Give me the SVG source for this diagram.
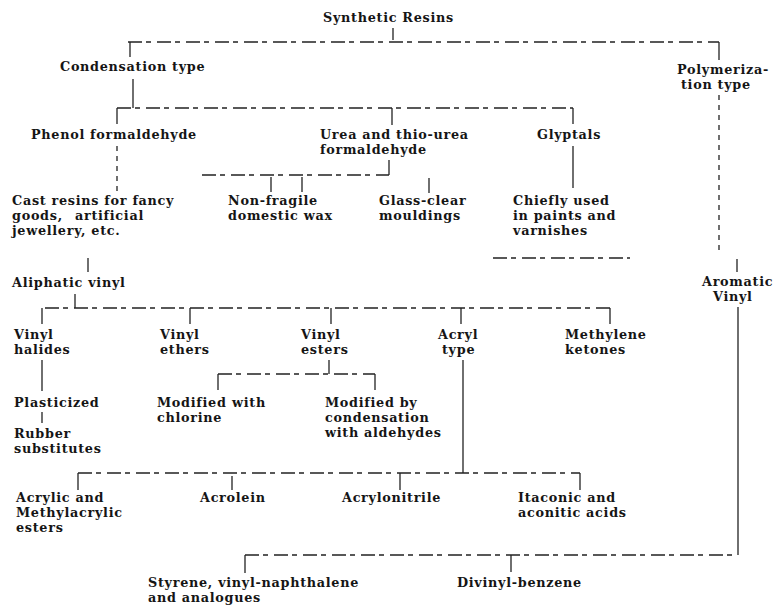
<svg xmlns="http://www.w3.org/2000/svg" width="778" height="605" viewBox="0 0 778 605">
<style>
text{font-family:"DejaVu Serif","Liberation Serif",serif;font-weight:bold;font-size:12.8px;letter-spacing:0.7px;fill:#151515}
.c line{stroke:#222;stroke-width:1.3;fill:none}
.c .h{stroke-dasharray:14 4 5 6}
.c .d{stroke-dasharray:5 5}
</style>
<rect width="778" height="605" fill="#fff"/>
<g class="c" id="connectors">
<line x1="393" y1="28" x2="393" y2="40"/>
<line class="h" x1="128" y1="42" x2="719" y2="42"/>
<line x1="130" y1="42" x2="130" y2="57"/>
<line x1="719" y1="42" x2="719" y2="60"/>
<line x1="133" y1="79" x2="133" y2="108"/>
<line class="h" x1="117" y1="108" x2="573" y2="108"/>
<line x1="117" y1="108" x2="117" y2="124"/>
<line x1="392" y1="108" x2="392" y2="125"/>
<line x1="573" y1="108" x2="573" y2="124"/>
<line class="d" x1="117" y1="146" x2="117" y2="195"/>
<line x1="389" y1="160" x2="389" y2="175"/>
<line class="h" x1="202" y1="175" x2="389" y2="175"/>
<line x1="271" y1="177" x2="271" y2="192"/>
<line x1="302" y1="177" x2="302" y2="192"/>
<line x1="429" y1="178" x2="429" y2="193"/>
<line x1="573" y1="146" x2="573" y2="188"/>
<line class="d" x1="719" y1="95" x2="719" y2="252"/>
<line class="h" x1="493" y1="258" x2="630" y2="258"/>
<line x1="88" y1="258" x2="88" y2="272"/>
<line x1="737" y1="259" x2="737" y2="272"/>
<line x1="75" y1="294" x2="75" y2="308"/>
<line class="h" x1="45" y1="308" x2="610" y2="308"/>
<line x1="42" y1="308" x2="42" y2="324"/>
<line x1="190" y1="308" x2="190" y2="324"/>
<line x1="331" y1="308" x2="331" y2="324"/>
<line x1="461" y1="308" x2="461" y2="324"/>
<line x1="610" y1="308" x2="610" y2="324"/>
<line x1="42" y1="360" x2="42" y2="391"/>
<line x1="329" y1="360" x2="329" y2="374"/>
<line class="h" x1="218" y1="374" x2="375" y2="374"/>
<line x1="218" y1="374" x2="218" y2="390"/>
<line x1="375" y1="374" x2="375" y2="390"/>
<line x1="42" y1="412" x2="42" y2="423"/>
<line x1="463" y1="360" x2="463" y2="473"/>
<line class="h" x1="78" y1="473" x2="580" y2="473"/>
<line x1="78" y1="473" x2="78" y2="490"/>
<line x1="232" y1="476" x2="232" y2="490"/>
<line x1="400" y1="473" x2="400" y2="490"/>
<line x1="580" y1="473" x2="580" y2="490"/>
<line x1="738" y1="307" x2="738" y2="555"/>
<line class="h" x1="245" y1="555" x2="738" y2="555"/>
<line x1="245" y1="555" x2="245" y2="573"/>
<line x1="511" y1="555" x2="511" y2="572"/>
</g>
<g id="synthetic-resins"><text x="323" y="22">Synthetic Resins</text></g>
<g id="condensation-type"><text x="60" y="71">Condensation type</text></g>
<g id="polymerization-type"><text x="677" y="74">Polymeriza-</text><text x="681" y="89">tion type</text></g>
<g id="phenol-formaldehyde"><text x="31" y="139">Phenol formaldehyde</text></g>
<g id="urea-formaldehyde"><text x="320" y="139">Urea and thio-urea</text><text x="320" y="154">formaldehyde</text></g>
<g id="glyptals"><text x="537" y="139">Glyptals</text></g>
<g id="cast-resins"><text x="12" y="205">Cast resins for fancy</text><text x="12" y="220">goods,<tspan x="75">artificial</tspan></text><text x="12" y="235">jewellery, etc.</text></g>
<g id="non-fragile"><text x="228" y="205">Non-fragile</text><text x="228" y="220">domestic wax</text></g>
<g id="glass-clear"><text x="379" y="205">Glass-clear</text><text x="379" y="220">mouldings</text></g>
<g id="chiefly-used"><text x="513" y="205">Chiefly used</text><text x="513" y="220">in paints and</text><text x="513" y="235">varnishes</text></g>
<g id="aliphatic-vinyl"><text x="12" y="287">Aliphatic vinyl</text></g>
<g id="aromatic-vinyl"><text x="702" y="286">Aromatic</text><text x="713" y="301">Vinyl</text></g>
<g id="vinyl-halides"><text x="14" y="339">Vinyl</text><text x="14" y="354">halides</text></g>
<g id="vinyl-ethers"><text x="160" y="339">Vinyl</text><text x="160" y="354">ethers</text></g>
<g id="vinyl-esters"><text x="301" y="339">Vinyl</text><text x="301" y="354">esters</text></g>
<g id="acryl-type"><text x="438" y="339">Acryl</text><text x="442" y="354">type</text></g>
<g id="methylene-ketones"><text x="565" y="339">Methylene</text><text x="565" y="354">ketones</text></g>
<g id="plasticized"><text x="14" y="407">Plasticized</text></g>
<g id="rubber-substitutes"><text x="14" y="438">Rubber</text><text x="14" y="453">substitutes</text></g>
<g id="modified-chlorine"><text x="157" y="407">Modified<tspan x="232">with</tspan></text><text x="157" y="422">chlorine</text></g>
<g id="modified-condensation"><text x="325" y="407">Modified by</text><text x="325" y="422">condensation</text><text x="325" y="437">with aldehydes</text></g>
<g id="acrylic-esters"><text x="16" y="502">Acrylic and</text><text x="16" y="517">Methylacrylic</text><text x="16" y="532">esters</text></g>
<g id="acrolein"><text x="200" y="502">Acrolein</text></g>
<g id="acrylonitrile"><text x="342" y="502">Acrylonitrile</text></g>
<g id="itaconic"><text x="518" y="502">Itaconic and</text><text x="518" y="517">aconitic acids</text></g>
<g id="styrene"><text x="148" y="587">Styrene, vinyl-naphthalene</text><text x="148" y="602">and analogues</text></g>
<g id="divinyl-benzene"><text x="457" y="587">Divinyl-benzene</text></g>
</svg>
